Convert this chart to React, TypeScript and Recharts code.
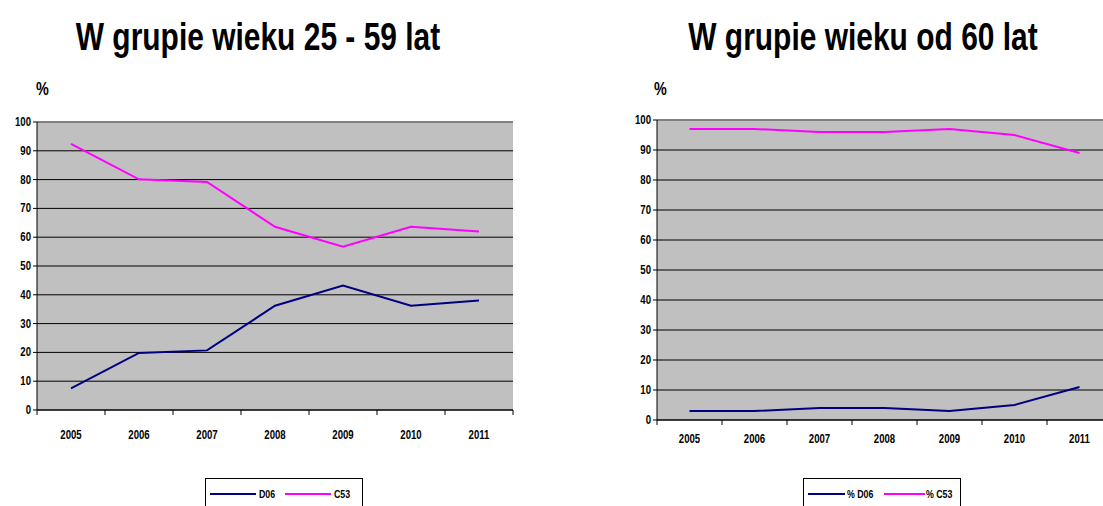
import { LineChart, Line, XAxis, YAxis, CartesianGrid, ReferenceLine } from "recharts";

const years = ["2005", "2006", "2007", "2008", "2009", "2010", "2011"];
const yTicks = [0, 10, 20, 30, 40, 50, 60, 70, 80, 90, 100];

// grupa 25 - 59
const d06Young = [7.5, 19.8, 20.7, 36.2, 43.2, 36.2, 38.0];
const c53Young = [92.4, 80.1, 79.2, 63.6, 56.7, 63.6, 62.0];

// grupa od 60
const d06Old = [3, 3, 4, 4, 3, 5, 11];
const c53Old = [97, 97, 96, 96, 97, 95, 89];

const NAVY = "#000080";
const PINK = "#ff00ff";
const FONT = "'Liberation Sans', Arial, sans-serif";
const NARROW = 0.8; // no Arial Narrow here, so squeeze the regular face

const buildRows = (a: number[], b: number[]) =>
    years.map((year, i) => ({ year, d06: a[i], c53: b[i] }));

function NarrowText({ x, y, size, anchor = "middle", children }: any) {
    return (
        <text
            transform={`translate(${x},${y}) scale(${NARROW},1)`}
            textAnchor={anchor}
            fontSize={size}
            fontWeight="bold"
            fontFamily={FONT}
            fill="#000"
        >
            {children}
        </text>
    );
}

function YearTick(props: any) {
    const { x, y, payload, index, labelDy } = props;
    const half = payload?.offset ?? 0;
    const last = index === years.length - 1;
    return (
        <g>
            <line x1={x - half} x2={x - half} y1={y} y2={y + 5} stroke="#000" />
            {last && <line x1={x + half} x2={x + half} y1={y} y2={y + 5} stroke="#000" />}
            <NarrowText x={x} y={y + labelDy} size={12}>
                {payload.value}
            </NarrowText>
        </g>
    );
}

function ValueTick(props: any) {
    const { x, y, payload } = props;
    return (
        <NarrowText x={x} y={y + 4} size={12} anchor="end">
            {payload.value}
        </NarrowText>
    );
}

function AgeChart({ rows, yWidth, height, top, right, labelDy }: any) {
    return (
        <LineChart width={540} height={height} data={rows} margin={{ top, right, bottom: 20, left: 0 }}>
            <CartesianGrid vertical={false} fill="#c0c0c0" fillOpacity={1} stroke="#000" />
            <ReferenceLine y={100} stroke="#808080" strokeWidth={2} />
            <XAxis
                dataKey="year"
                scale="band"
                height={30}
                axisLine={{ stroke: "#000" }}
                tickLine={false}
                tickSize={0}
                tickMargin={0}
                interval={0}
                tick={<YearTick labelDy={labelDy} />}
            />
            <YAxis
                domain={[0, 100]}
                ticks={yTicks}
                interval={0}
                width={yWidth}
                tickSize={4}
                tickMargin={2}
                axisLine={{ stroke: "#000" }}
                tickLine={{ stroke: "#000" }}
                tick={<ValueTick />}
            />
            <YAxis
                yAxisId="border"
                orientation="right"
                domain={[0, 100]}
                width={0}
                tick={false}
                tickLine={false}
                axisLine={{ stroke: "#808080", strokeWidth: 2 }}
            />
            <Line type="linear" dataKey="d06" stroke={NAVY} strokeWidth={2} dot={false} isAnimationActive={false} />
            <Line type="linear" dataKey="c53" stroke={PINK} strokeWidth={2} dot={false} isAnimationActive={false} />
        </LineChart>
    );
}

// legend: [line start, line end, text x] per entry
function LegendBox({ names, left, slots }: { names: string[]; left: number; slots: number[][] }) {
    const colors = [NAVY, PINK];
    return (
        <svg width={158} height={40} style={{ position: "absolute", left, top: 478 }}>
            <rect x={0.5} y={0.5} width={157} height={39} fill="#fff" stroke="#000" />
            {names.map((n, i) => (
                <g key={n}>
                    <line x1={slots[i][0]} x2={slots[i][1]} y1={16} y2={16} stroke={colors[i]} strokeWidth={2} />
                    <NarrowText x={slots[i][2]} y={20} size={11} anchor="start">
                        {n}
                    </NarrowText>
                </g>
            ))}
        </svg>
    );
}

export default function App() {
    return (
        <div
            style={{
                position: "absolute",
                left: 0,
                top: 0,
                width: 1103,
                height: 506,
                overflow: "hidden",
                background: "#fff",
            }}
        >
            <div style={{ position: "absolute", left: 0, top: 0 }}>
                <AgeChart rows={buildRows(d06Young, c53Young)} yWidth={37} height={460} top={122} right={27} labelDy={29} />
            </div>
            <div style={{ position: "absolute", left: 600, top: 0 }}>
                <AgeChart rows={buildRows(d06Old, c53Old)} yWidth={57} height={470} top={120} right={28} labelDy={23} />
            </div>

            <svg width={1103} height={110} style={{ position: "absolute", left: 0, top: 0 }}>
                <g transform="scale(0.96,1)" transform-origin="258 50">
                    <NarrowText x={258} y={50} size={39}>W grupie wieku 25 - 59 lat</NarrowText>
                </g>
                <g transform="scale(0.96,1)" transform-origin="863 50">
                    <NarrowText x={863} y={50} size={39}>W grupie wieku od 60 lat</NarrowText>
                </g>
                <NarrowText x={36} y={95} size={18} anchor="start">%</NarrowText>
                <NarrowText x={654} y={95} size={18} anchor="start">%</NarrowText>
            </svg>

            <LegendBox names={["D06", "C53"]} left={205} slots={[[5, 51, 54], [80, 126, 129]]} />
            <LegendBox names={["% D06", "% C53"]} left={803} slots={[[5, 42, 44], [81, 122, 123]]} />
        </div>
    );
}
